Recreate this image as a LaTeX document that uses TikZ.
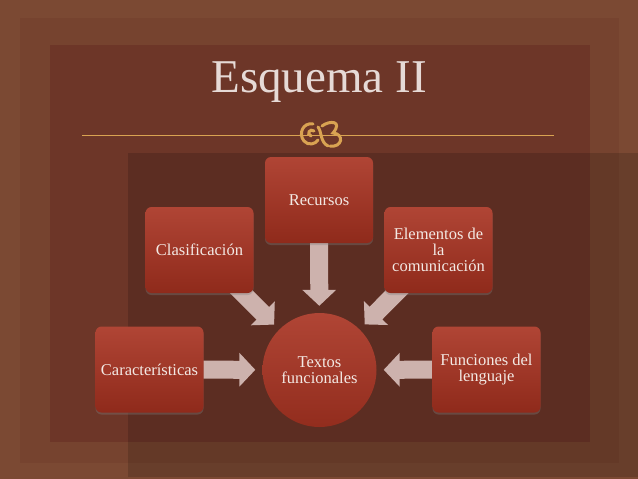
\documentclass[tikz,border=0pt]{standalone}
\usepackage{fontspec}
\setmainfont{Liberation Serif}
\usetikzlibrary{arrows.meta,shadows}
\pgfdeclarelayer{background}
\pgfsetlayers{background,main}

\definecolor{outerbg}{HTML}{7B4933}
\definecolor{framebg}{HTML}{76432F}
\definecolor{innerbg}{HTML}{6D3628}
\definecolor{boxtop}{HTML}{B04535}
\definecolor{boxbot}{HTML}{8F2A1B}
\definecolor{arrowfill}{HTML}{CDB2AD}
\definecolor{gold}{HTML}{D9A352}
\definecolor{lighttext}{HTML}{F3E9E4}
\definecolor{titletext}{HTML}{E6DAD6}

\begin{document}
\begin{tikzpicture}[x=1pt, y=-1pt,
    item/.style = {rounded corners=6pt, top color=boxtop, bottom color=boxbot, minimum width=108pt, minimum height=86pt, inner sep=2pt, align=center, text=lighttext, font=\fontsize{16.5}{16}\selectfont, drop shadow={shadow xshift=0pt, shadow yshift=-2pt, opacity=0.35}},
    hub/.style = {circle, top color=boxtop, bottom color=boxbot!90!boxtop, minimum size=114pt, inner sep=0pt, align=center, text=lighttext, font=\fontsize{16.5}{16.5}\selectfont},
    feed/.style = {arrowfill, line width=18pt, -{Triangle[length=16pt, width=33pt]}, shorten >=7pt}]
            \useasboundingbox (0,0) rectangle (638,479);
            % Background
            \begin{pgfonlayer}{background}
            \fill[outerbg] (0,0) rectangle (638,479);
            \fill[framebg] (20,18) rectangle (619,463);
            \fill[innerbg] (50,45) rectangle (590,442);
            \fill[black, opacity=0.15] (128,153) rectangle (638,477);
            \end{pgfonlayer}

            % Title
            \node[anchor=base, text=titletext, font=\fontsize{47}{47}\selectfont] (title) at (319,92) {Esquema II};
            \draw[gold, line width=1pt] (82,135) -- (554,135);
            \draw[gold, line width=3pt, line cap=round]
                (313,124) .. controls (303,122) and (298,134) .. (304,141) .. controls (308,146) and (316,144) .. (318,140)
                (314,131) .. controls (310,128) and (306,134) .. (311,136)
                (318,127) .. controls (322,132) and (320,142) .. (328,146)
                (322,126) .. controls (330,120) and (343,121) .. (333,133) .. controls (345,134) and (342,148) .. (330,146);

            % Nodes
            \node[hub] (tf) at (319.5,370) {Textos\\funcionales};
            \node[item] (rec) at (319,200) {Recursos};
            \node[item] (cla) at (199.5,250) {Clasificación};
            \node[item] (ele) at (438.5,250) {Elementos de\\la\\comunicación};
            \node[item] (car) at (149.5,369.5) {Características};
            \node[item] (fun) at (486.5,369.5) {Funciones del\\lenguaje};

            % Arrows
            \begin{pgfonlayer}{background}
            \draw[feed] (car.center) -- (tf);
            \draw[feed] (cla.center) -- (tf);
            \draw[feed] (rec.center) -- (tf);
            \draw[feed] (ele.center) -- (tf);
            \draw[feed] (fun.center) -- (tf);
            \end{pgfonlayer}
        \end{tikzpicture}
\end{document}
